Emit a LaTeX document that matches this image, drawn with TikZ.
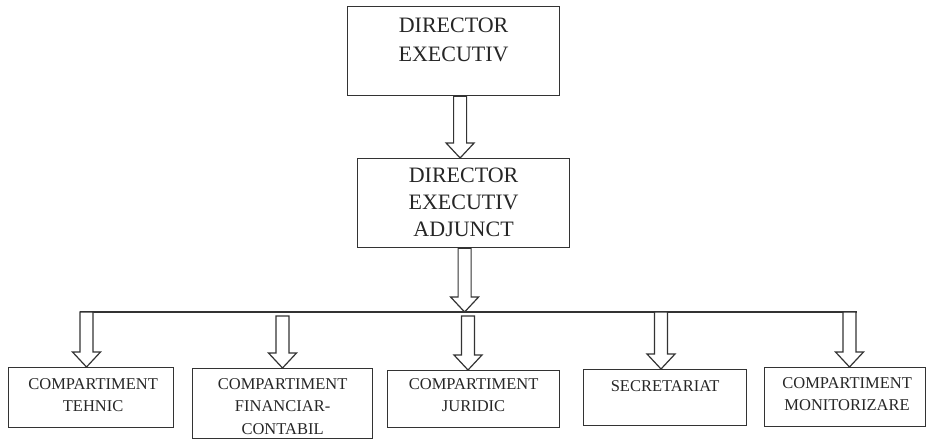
\documentclass[tikz,border=0pt]{standalone}
\usepackage{fontspec}
\setmainfont{Liberation Serif}
\usetikzlibrary{positioning}

\tikzset{
  unit/.style={shape=rectangle,draw=black!80,line width=1.2pt,inner sep=0pt,anchor=north west},
  toptext/.style={inner sep=0pt,align=center,text=black!85,font=\fontsize{22}{29}\selectfont},
  comptext/.style={inner sep=0pt,align=center,text=black!85,font=\fontsize{16.5}{22.5}\selectfont},
  hollow/.style={draw=black!80,line width=1.2pt,fill=white,line join=miter}
}

% vertical block arrow from #1 down to the tip #2
\newcommand{\blockarrow}[2]{%
  \draw[hollow] ([xshift=-6.5pt]#1) -- ([xshift=-6.5pt,yshift=15pt]#2)
    -- ([xshift=-14pt,yshift=15pt]#2) -- (#2) -- ([xshift=14pt,yshift=15pt]#2)
    -- ([xshift=6.5pt,yshift=15pt]#2) -- ([xshift=6.5pt]#1) -- cycle;}

\begin{document}
\begin{tikzpicture}[x=1pt,y=-1pt]
	\useasboundingbox (0,0) rectangle (926,439);
	\node[unit,minimum width=212pt,minimum height=89pt] (dir) at (347,6)   {};
	\node[unit,minimum width=212pt,minimum height=89pt] (adj) at (357,158) {};
	\node[unit,minimum width=165pt,minimum height=60pt] (b1) at (8,367)   {};
	\node[unit,minimum width=180pt,minimum height=70pt] (b2) at (192,368) {};
	\node[unit,minimum width=172pt,minimum height=57pt] (b3) at (387,370) {};
	\node[unit,minimum width=163pt,minimum height=56pt] (b4) at (583,369) {};
	\node[unit,minimum width=161pt,minimum height=59pt] (b5) at (764,367) {};

	\node[toptext,below=12pt of dir.north] (dirtxt) {DIRECTOR\\EXECUTIV};
	\node[toptext,font=\fontsize{22}{26.7}\selectfont,below=10pt of adj.north] (adjtxt) {DIRECTOR\\EXECUTIV\\ADJUNCT};
	\node[comptext,below=11pt of b1.north,xshift=2pt] (t1) {COMPARTIMENT\\TEHNIC};
	\node[comptext,below=10pt of b2.north] (t2) {COMPARTIMENT\\FINANCIAR-\\CONTABIL};
	\node[comptext,below=8pt of b3.north] (t3) {COMPARTIMENT\\JURIDIC};
	\node[comptext,below=11pt of b4.north] (t4) {SECRETARIAT};
	\node[comptext,below=10pt of b5.north,xshift=2pt] (t5) {COMPARTIMENT\\MONITORIZARE};

	\coordinate (busl) at (80,312);
	\coordinate (busr) at (857,312);
	\draw[draw=black!80,line width=1.2pt] (busl) -- (busr);
	\draw[draw=black!80,line width=1.6pt] (358,312) -- (590,312);

	\coordinate (a1s) at ([xshift=6.5pt]dir.south);
	\coordinate (a1e) at (a1s |- adj.north);
	\coordinate (a2s) at ([xshift=1pt]adj.south);
	\coordinate (a2e) at (a2s |- busl);
	\coordinate (c1s) at ([xshift=6.5pt]busl);
	\coordinate (c1e) at (c1s |- b1.north);
	\coordinate (c2s) at (282.5,316);
	\coordinate (c2e) at (c2s |- b2.north);
	\coordinate (c3s) at (468,316);
	\coordinate (c3e) at (c3s |- b3.north);
	\coordinate (c4s) at (661,312);
	\coordinate (c4e) at (c4s |- b4.north);
	\coordinate (c5s) at ([xshift=-7.5pt]busr);
	\coordinate (c5e) at (c5s |- b5.north);

	\blockarrow{a1s}{a1e}
	\blockarrow{a2s}{a2e}
	\blockarrow{c1s}{c1e}
	\blockarrow{c2s}{c2e}
	\blockarrow{c3s}{c3e}
	\blockarrow{c4s}{c4e}
	\blockarrow{c5s}{c5e}
\end{tikzpicture}
\end{document}
